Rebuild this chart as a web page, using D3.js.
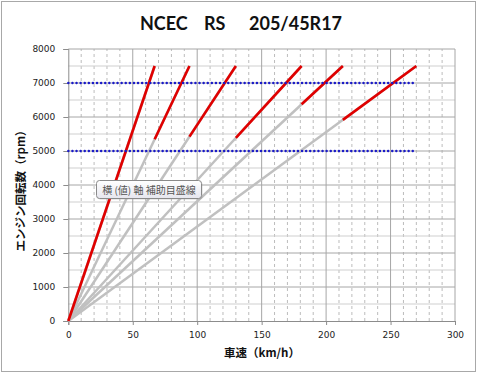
<html>
<head>
  <meta charset="utf-8">
  <script src="https://d3js.org/d3.v7.min.js"></script>
  <style>
    body { margin: 0; background: white; }
    text { font-family: "DejaVu Sans", sans-serif; }
  </style>
  <script>
    // ギア毎の 7500rpm 時の車速 (km/h)
    var gears = ["1", "2", "3", "4", "5", "6"];
    var topSpeed = [67, 94, 130, 181, 213, 270];
    var maxRpm = 7500;
    var refRpm = [5000, 7000];
    var refEnd = 270;
    var xTicks = [0, 50, 100, 150, 200, 250, 300];
    var yTicks = [0, 1000, 2000, 3000, 4000, 5000, 6000, 7000, 8000];

    function makeChart() {
        var svg = d3.select("#chart");
        var x = d3.scaleLinear().domain([0, 300]).range([68.3, 455]);
        var y = d3.scaleLinear().domain([0, 8000]).range([321, 49]);

        svg.append("rect").attr("x", 1.5).attr("y", 1.5).attr("width", 474).attr("height", 370)
            .attr("fill", "white").attr("stroke", "#a8a8a8");

        // title
        var t = svg.append("g").attr("font-weight", "bold").attr("font-size", 18)
            .attr("fill", "#111");
        t.append("text").attr("x", 140).attr("y", 30).style("font-family", "Lato").text("NCEC");
        t.append("text").attr("x", 204).attr("y", 30).style("font-family", "Lato").text("RS");
        t.append("text").attr("x", 249).attr("y", 30).style("font-family", "Lato").text("205/45R17");

        // grid
        var g = svg.append("g");
        g.selectAll(".vmin").data(d3.range(10, 300, 10).filter(d => d % 50)).enter().append("line")
            .attr("x1", d => x(d)).attr("x2", d => x(d)).attr("y1", y(0)).attr("y2", y(8000))
            .attr("stroke", "#bcbcbc").attr("stroke-dasharray", "3,3");
        g.selectAll(".hmin").data(d3.range(500, 8000, 1000)).enter().append("line")
            .attr("x1", x(0)).attr("x2", x(300)).attr("y1", d => y(d)).attr("y2", d => y(d))
            .attr("stroke", "#cfcfcf");
        g.selectAll(".hmaj").data(yTicks.slice(1)).enter().append("line")
            .attr("x1", x(0)).attr("x2", x(300)).attr("y1", d => y(d)).attr("y2", d => y(d))
            .attr("stroke", "#a6a6a6");
        g.selectAll(".vmaj").data(xTicks.slice(1)).enter().append("line")
            .attr("x1", d => x(d)).attr("x2", d => x(d)).attr("y1", y(0)).attr("y2", y(8000))
            .attr("stroke", "#a6a6a6");

        // axes
        var ax = svg.append("g").attr("transform", "translate(0," + y(0) + ")")
            .call(d3.axisBottom(x).tickValues(xTicks).tickFormat(d3.format("d"))
                .tickSize(4).tickPadding(7));
        var ay = svg.append("g").attr("transform", "translate(" + x(0) + ",0)")
            .call(d3.axisLeft(y).tickValues(yTicks).tickFormat(d3.format("d"))
                .tickSize(5).tickPadding(8));
        [ax, ay].forEach(a => {
            a.select(".domain").attr("stroke", "#8c8c8c");
            a.selectAll(".tick line").attr("stroke", "#8c8c8c");
            a.selectAll("text").attr("font-size", 9).attr("fill", "#222")
                .style("font-family", "DejaVu Sans");
        });

        // gear lines (gray, full)
        svg.selectAll(".gl").data(topSpeed).enter().append("line")
            .attr("x1", x(0)).attr("y1", y(0))
            .attr("x2", d => x(d)).attr("y2", y(maxRpm))
            .attr("stroke", "#c0c0c0").attr("stroke-width", 2.5);

        // red: from shift speed of previous gear up to max rpm
        svg.selectAll(".rl").data(topSpeed).enter().append("line")
            .attr("x1", (d, i) => x(i ? topSpeed[i - 1] : 0))
            .attr("y1", (d, i) => y(i ? maxRpm * topSpeed[i - 1] / d : 0))
            .attr("x2", d => x(d)).attr("y2", y(maxRpm))
            .attr("stroke", "#e00000").attr("stroke-width", 2.6);

        // reference rpm lines
        svg.selectAll(".ref").data(refRpm).enter().append("line")
            .attr("x1", x(0)).attr("x2", x(refEnd))
            .attr("y1", d => y(d)).attr("y2", d => y(d))
            .attr("stroke", "#1a1ac8").attr("stroke-width", 2.4)
            .attr("stroke-linecap", "round").attr("stroke-dasharray", "0.1,4");

        // axis titles
        svg.append("text").attr("x", 262).attr("y", 357).attr("text-anchor", "middle")
            .attr("font-size", 11.5).attr("font-weight", "bold").attr("fill", "#111")
            .style("font-family", "Noto Sans CJK JP").text("車速（km/h）");
        svg.append("text").attr("transform", "translate(25,188) rotate(-90)")
            .attr("text-anchor", "middle").attr("font-size", 11.5).attr("font-weight", "bold")
            .attr("fill", "#111").style("font-family", "Noto Sans CJK JP")
            .text("エンジン回転数（rpm）");

        // tooltip
        var defs = svg.append("defs");
        var lg = defs.append("linearGradient").attr("id", "tip").attr("x2", 0).attr("y2", 1);
        lg.append("stop").attr("offset", 0).attr("stop-color", "#ffffff");
        lg.append("stop").attr("offset", 1).attr("stop-color", "#e6e6ee");
        svg.append("rect").attr("x", 97.5).attr("y", 181.5).attr("width", 105).attr("height", 18)
            .attr("rx", 3).attr("fill", "#999").attr("opacity", 0.4);
        svg.append("rect").attr("x", 96.5).attr("y", 180.5).attr("width", 105).attr("height", 18)
            .attr("rx", 3).attr("fill", "url(#tip)").attr("stroke", "#8a8a8a");
        svg.append("text").attr("x", 149).attr("y", 193.5).attr("text-anchor", "middle")
            .attr("font-size", 10).attr("fill", "#555").style("font-family", "Noto Sans CJK JP")
            .text("横 (値) 軸 補助目盛線");
    }
  </script>
</head>
<body onload="makeChart()">
  <svg id="chart" width="480" height="376"></svg>
</body>
</html>
